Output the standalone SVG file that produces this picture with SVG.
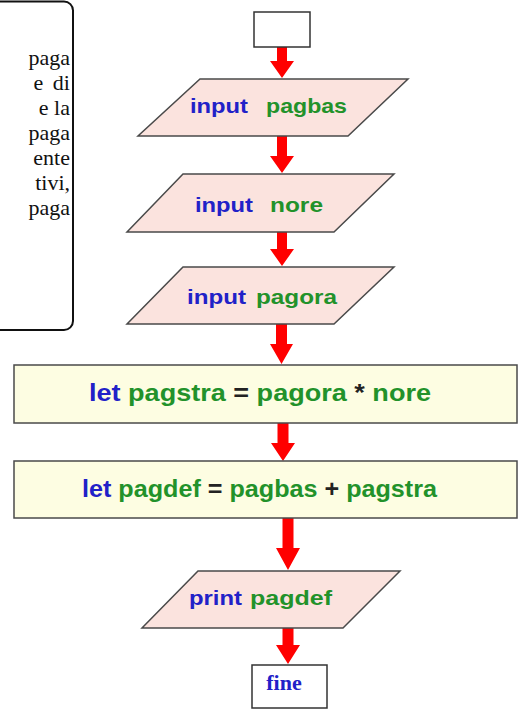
<svg xmlns="http://www.w3.org/2000/svg" width="519" height="710" viewBox="0 0 519 710">
  <defs>
    <style>
      .io { fill: #fbe3de; stroke: #4a4a4a; stroke-width: 1.5; }
      .proc { fill: #fdfde2; stroke: #4a4a4a; stroke-width: 1.5; }
      .term { fill: #ffffff; stroke: #333333; stroke-width: 1.5; }
      .kw { font-family: "Liberation Sans", Arial, sans-serif; font-weight: bold; fill: #2121c8; }
      .var { font-family: "Liberation Sans", Arial, sans-serif; font-weight: bold; fill: #22922a; }
      .op { fill: #222222; }
      .note { font-family: "Liberation Serif", "Times New Roman", serif; font-size: 22px; fill: #111111; }
      .arrow { fill: #ff0000; }
    </style>
  </defs>

  <rect width="519" height="710" fill="#ffffff"/>

  <!-- description box, cut at the left edge -->
  <g id="note">
    <path d="M -4 1.5 H 64 A 9 9 0 0 1 73 10.5 V 321 A 9 9 0 0 1 64 330 H -4" fill="none" stroke="#111111" stroke-width="2"/>
    <text class="note" x="70" y="65" text-anchor="end">paga</text>
    <text class="note" x="70" y="90" text-anchor="end" word-spacing="4">e di</text>
    <text class="note" x="70" y="115" text-anchor="end">e la</text>
    <text class="note" x="70" y="140" text-anchor="end">paga</text>
    <text class="note" x="70" y="165" text-anchor="end">ente</text>
    <text class="note" x="70" y="190" text-anchor="end">tivi,</text>
    <text class="note" x="70" y="215" text-anchor="end">paga</text>
  </g>

  <!-- flow connectors -->
  <g id="connectors">
    <path class="arrow" d="M 277 47 H 287 V 61 H 294 L 282 78 L 270 61 H 277 Z"/>
    <path class="arrow" d="M 277 136 H 287 V 156 H 294 L 282 173 L 270 156 H 277 Z"/>
    <path class="arrow" d="M 277 232 H 287 V 249 H 294 L 282 266 L 270 249 H 277 Z"/>
    <path class="arrow" d="M 276 324 H 287 V 344 H 293 L 281.5 364 L 270 344 H 276 Z"/>
    <path class="arrow" d="M 277.5 423 H 288.5 V 443 H 295 L 283 461 L 271 443 H 277.5 Z"/>
    <path class="arrow" d="M 282.5 518 H 293.5 V 548 H 300 L 288 570 L 276 548 H 282.5 Z"/>
    <path class="arrow" d="M 282.5 628 H 293.5 V 645 H 300 L 288 664 L 276 645 H 282.5 Z"/>
  </g>

  <g id="start">
    <rect class="term" x="254" y="12" width="56" height="35"/>
  </g>

  <g id="input-pagbas">
    <polygon class="io" points="200,79 408,79 348,136 138,136"/>
    <text class="kw" x="190" y="113" font-size="21" textLength="58" lengthAdjust="spacingAndGlyphs">input</text>
    <text class="var" x="266" y="113" font-size="21" textLength="81" lengthAdjust="spacingAndGlyphs">pagbas</text>
  </g>

  <g id="input-nore">
    <polygon class="io" points="183,174 394,174 334,232 127,232"/>
    <text class="kw" x="195" y="212" font-size="21" textLength="58" lengthAdjust="spacingAndGlyphs">input</text>
    <text class="var" x="270" y="212" font-size="21" textLength="53" lengthAdjust="spacingAndGlyphs">nore</text>
  </g>

  <g id="input-pagora">
    <polygon class="io" points="183,267 394,267 334,324 127,324"/>
    <text class="kw" x="187" y="304" font-size="21" textLength="59" lengthAdjust="spacingAndGlyphs">input</text>
    <text class="var" x="256" y="304" font-size="21" textLength="81" lengthAdjust="spacingAndGlyphs">pagora</text>
  </g>

  <g id="let-pagstra">
    <rect class="proc" x="14" y="365" width="503" height="58"/>
    <text class="var" x="89" y="401" font-size="24" textLength="342" lengthAdjust="spacingAndGlyphs"><tspan class="kw">let</tspan> pagstra <tspan class="op">=</tspan> pagora <tspan class="op">*</tspan> nore</text>
  </g>

  <g id="let-pagdef">
    <rect class="proc" x="14" y="461" width="503" height="57"/>
    <text class="var" x="82" y="497" font-size="24" textLength="355" lengthAdjust="spacingAndGlyphs"><tspan class="kw">let</tspan> pagdef <tspan class="op">=</tspan> pagbas <tspan class="op">+</tspan> pagstra</text>
  </g>

  <g id="print-pagdef">
    <polygon class="io" points="198,571 400,571 343,628 142,628"/>
    <text class="kw" x="189" y="605" font-size="21" textLength="53" lengthAdjust="spacingAndGlyphs">print</text>
    <text class="var" x="250" y="605" font-size="21" textLength="82" lengthAdjust="spacingAndGlyphs">pagdef</text>
  </g>

  <g id="end">
    <rect class="term" x="252" y="665" width="75" height="43"/>
    <text x="284" y="690" text-anchor="middle" font-family="'Liberation Serif', 'Times New Roman', serif" font-weight="bold" font-size="22" fill="#2121c8">fine</text>
  </g>
</svg>
